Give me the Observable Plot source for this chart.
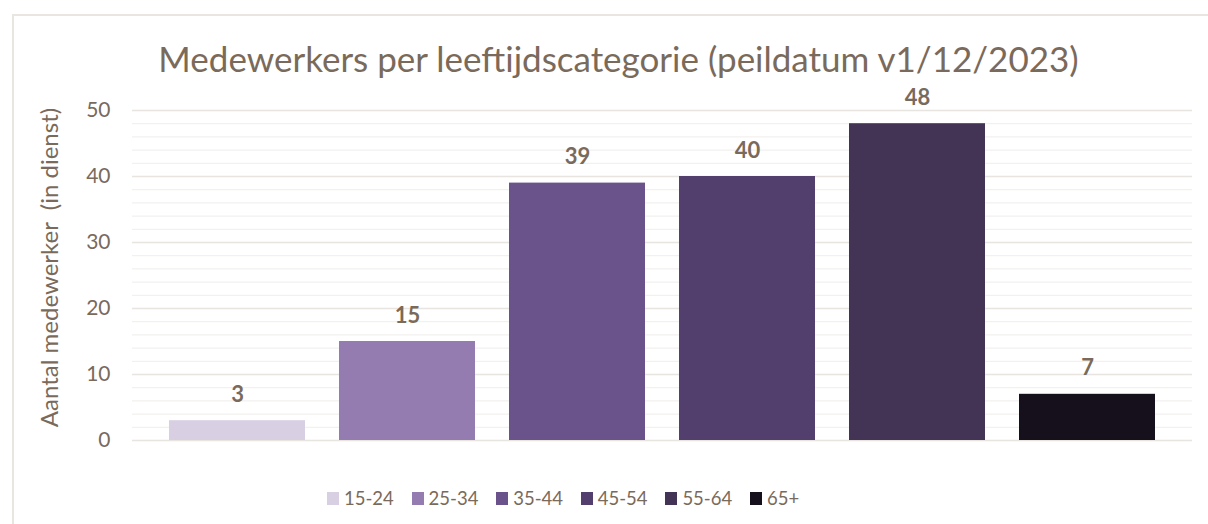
<!DOCTYPE html>
<html>
<head>
<meta charset="utf-8">
<script src="https://cdn.jsdelivr.net/npm/d3@7"></script>
<script src="https://cdn.jsdelivr.net/npm/@observablehq/plot@0.6"></script>
<style>
  html, body { margin: 0; padding: 0; background: #fff; }
  #wrap { position: relative; width: 1208px; height: 524px; overflow: hidden; font-family: Lato, sans-serif; }
  #border { position: absolute; left: 12px; top: 14px; width: 1200px; height: 520px; border-top: 2px solid #e9e5e1; border-left: 2px solid #e9e5e1; }
  #chart { position: absolute; left: 0; top: 0; }
  #legend { position: absolute; top: 487px; left: 327px; display: flex; }
  .item { display: flex; align-items: center; width: 84.6px; color: #7a6a5b; font-size: 18.5px; }
  .sw { width: 12px; height: 13px; margin-right: 5px; }
</style>
</head>
<body>
<div id="wrap"><div id="border"></div><div id="chart"></div><div id="legend"></div></div>
<script>
const title = "Medewerkers per leeftijdscategorie (peildatum v1/12/2023)";
const yLabel = "Aantal medewerker  (in dienst)";
const categories = ["15-24", "25-34", "35-44", "45-54", "55-64", "65+"];
const values = [3, 15, 39, 40, 48, 7];
const colors = ["#d9cfe3", "#947bb0", "#6a528b", "#533f6d", "#433354", "#16101d"];
const yTicks = [0, 10, 20, 30, 40, 50];
const minorTicks = [2, 4, 6, 8, 12, 14, 16, 18, 22, 24, 26, 28, 32, 34, 36, 38, 42, 44, 46, 48];

const data = categories.map((c, i) => ({cat: c, value: values[i]}));
const textColor = "#7a6a5b";

const chart = Plot.plot({
  width: 1208,
  height: 524,
  marginLeft: 132,
  marginRight: 16,
  marginTop: 110,
  marginBottom: 84,
  style: {fontFamily: "Lato, sans-serif", background: "transparent", overflow: "visible"},
  x: {domain: categories, padding: 0.2, axis: null},
  y: {domain: [0, 50], ticks: yTicks, tickSize: 0, tickPadding: 22, label: null},
  color: {domain: categories, range: colors},
  marks: [
    Plot.ruleY(minorTicks, {stroke: "#f3f1ef", strokeWidth: 1.3}),
    Plot.ruleY(yTicks, {stroke: "#e8e4e0", strokeWidth: 1.6}),
    Plot.barY(data, {x: "cat", y: "value", fill: "cat"}),
    Plot.text(data, {x: "cat", y: "value", text: d => String(d.value), dy: -19, lineAnchor: "bottom",
      fill: textColor, fontWeight: "bold", fontSize: 22}),
    Plot.axisY({ticks: yTicks, tickSize: 0, tickPadding: 22, fontSize: 21, color: textColor, label: null}),
    Plot.text([title], {frameAnchor: "top", dx: -44, dy: -39, lineAnchor: "bottom", fontSize: 35, fill: textColor}),
    Plot.text([yLabel], {frameAnchor: "top-left", dx: 50 - 132, dy: 267 - 110, rotate: -90, textAnchor: "middle", lineAnchor: "middle", fontSize: 24, fill: textColor})
  ]
});
document.getElementById("chart").appendChild(chart);

const legend = document.getElementById("legend");
categories.forEach((c, i) => {
  const item = document.createElement("div");
  item.className = "item";
  const sw = document.createElement("div");
  sw.className = "sw";
  sw.style.background = colors[i];
  const t = document.createElement("span");
  t.textContent = c;
  item.appendChild(sw);
  item.appendChild(t);
  legend.appendChild(item);
});
</script>
</body>
</html>
